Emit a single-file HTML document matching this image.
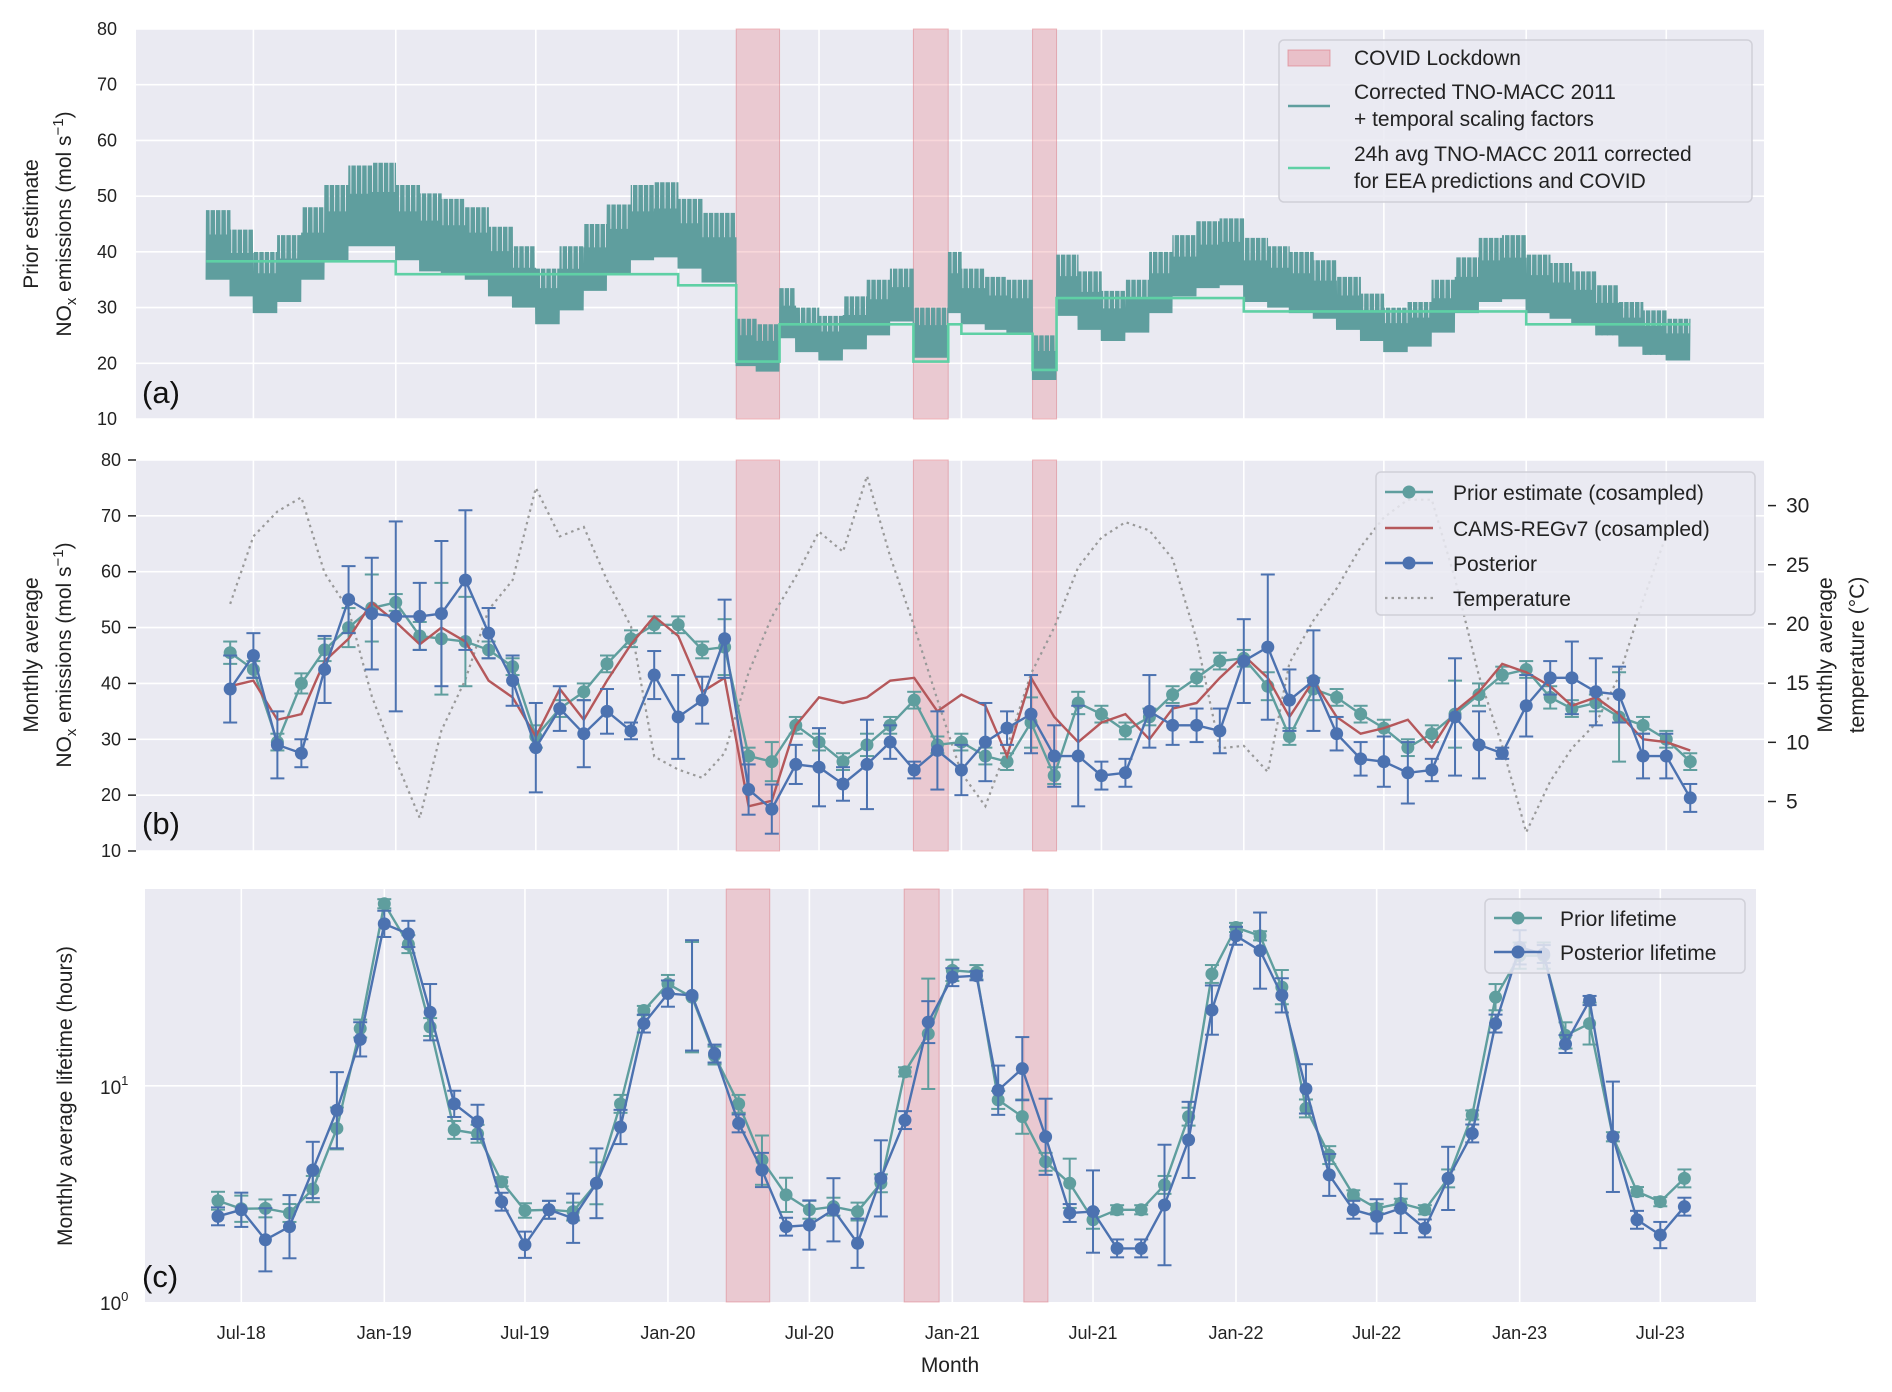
<!DOCTYPE html>
<html><head><meta charset="utf-8">
<style>
html,body{margin:0;padding:0;background:#fff;}
svg{display:block;font-family:"Liberation Sans",Arial,sans-serif;}
</style></head>
<body>
<svg id="fig" width="1892" height="1392" viewBox="0 0 1892 1392" xmlns="http://www.w3.org/2000/svg"></svg>
<script>
// ---------- DATA ----------
const lockdownStart = ['2020-03-16','2020-10-31','2021-04-03'];
const lockdownEnd   = ['2020-05-11','2020-12-15','2021-05-04'];

// Panel (a): envelope of hourly prior emissions per segment
const segStart = ['2018-05-01','2018-06-01','2018-07-01','2018-08-01','2018-09-01','2018-10-01','2018-11-01','2018-12-01',
'2019-01-01','2019-02-01','2019-03-01','2019-04-01','2019-05-01','2019-06-01','2019-07-01','2019-08-01','2019-09-01','2019-10-01','2019-11-01','2019-12-01',
'2020-01-01','2020-02-01','2020-03-16','2020-04-11','2020-05-11','2020-06-01','2020-07-01','2020-08-01','2020-09-01','2020-10-01','2020-10-31','2020-12-15',
'2021-01-01','2021-02-01','2021-03-01','2021-04-03','2021-05-04','2021-06-01','2021-07-01','2021-08-01','2021-09-01','2021-10-01','2021-11-01','2021-12-01',
'2022-01-01','2022-02-01','2022-03-01','2022-04-01','2022-05-01','2022-06-01','2022-07-01','2022-08-01','2022-09-01','2022-10-01','2022-11-01','2022-12-01',
'2023-01-01','2023-02-01','2023-03-01','2023-04-01','2023-05-01','2023-06-01','2023-07-01'];
const segEnd = '2023-08-01';
const segHigh = [47.5,44,40,43,48,52,55.5,56, 52,50.5,49.5,48,44.5,41,37,41,45,48.5,52,52.5,
 49.5,47,28,27,33.5,30,28.5,32,35,37,30,40, 37,35.5,35,25,39.5,36.5,33,35,40,43,45.5,46,
 42.5,41,40,38.5,35.5,32.5,30,31,35,39,42.5,43, 39.5,38,36.5,34,31,29.5,28];
const segLow = [35,32,29,31,35,38.5,41,41, 38.5,36.5,36,35,32,30,27,29.5,33,36,38.5,39,
 37,34.5,19.5,18.5,24.5,22,20.5,22.5,25,27.5,21,29, 27,26,25.5,17,28.5,26,24,25.5,29,32,33.5,34,
 31,30,29,28,26,24,22,23,25.5,29,31,31.5, 29,28,27,25,23,21.5,20.5];
const stepStart = ['2018-05-01','2019-01-01','2020-01-01','2020-03-16','2020-05-11','2020-10-31','2020-12-15','2021-01-01','2021-04-03','2021-05-04','2022-01-01','2023-01-01'];
const stepValue = [38.3,36,34,20.3,27,20.3,27,25.3,18.8,31.7,29.3,27];

// Panel (b): monthly values, Jun 2018 .. Aug 2023
const firstMonth = '2018-06-01';
const nMonths = 63;
const priorB = [45.5,42.5,29.5,40,46,50,53.5,54.5,48.5,48,47.5,46,43,30.5,35.5,38.5,43.5,48,50.5,50.5,46,46.5,
 27,26,32.5,29.5,26,29,32.5,37,29,29.5,27,26,33,23.5,36.5,34.5,31.5,34,38,41,44,44.5,39.5,30.5,39,37.5,
 34.5,32,28.5,31,34.5,38,41.5,42.5,37.5,35.5,36.5,34,32.5,30,26];
const priorBErr = [2,1.5,1.5,1.8,2,3.5,6,1.5,2.5,10,8,1.5,1.5,2,1.5,1.5,1.5,1.5,1.5,1.5,1.5,5,
 1.5,3.5,1.5,1.5,1.5,2,1.5,1.5,1.5,1.5,1.5,1.5,4.5,1.5,2,1.5,1.5,1.5,1.5,1.5,1.5,1.5,2.5,1.5,2,1.5,
 1.5,1.5,1.5,1.5,6,2,1.5,1.5,2,1.5,1.5,8,1.5,1.5,1.5];
const camsB = [39.5,40.5,33.5,34.5,44,48,54.5,51,47,50,47.5,40.5,37.5,30.5,39,33.5,40.5,47,52,48.5,38.5,41,
 18,19,32.5,37.5,36.5,37.5,40.5,41,35,38,36,27,41,34,29.5,33,34.5,30,35.5,36.5,41,45,41,34,40.5,34,
 31,32,33.5,28.5,35,38.5,43.5,42,39.5,36,37.5,34.5,30,29.5,28];
const postB = [39,45,29,27.5,42.5,55,52.5,52,52,52.5,58.5,49,40.5,28.5,35.5,31,35,31.5,41.5,34,37,48,
 21,17.5,25.5,25,22,25.5,29.5,24.5,28,24.5,29.5,32,34.5,27,27,23.5,24,35,32.5,32.5,31.5,44,46.5,37,40.5,31,
 26.5,26,24,24.5,34,29,27.5,36,41,41,38.5,38,27,27,19.5];
const postBErr = [6,4,6,2.5,6,6,10,17,6,13,12.5,4.5,4.5,8,4,6,4,1.5,4.3,7.5,4.2,7,
 4.5,4.4,3.5,7,3,8,3,1.5,7,4.5,7,3,7,5.5,9,2.5,2.5,6.5,3.5,3,4,7.5,13,5.5,9,3,
 3,4.5,5.5,2,10.5,6,1,5.5,3,6.5,6,5,4,4,2.5];
const tempB = [21.7,27.4,29.5,30.7,24.3,21.2,13.9,8.5,3.6,11,15.3,21.2,23.7,31.5,27.4,28.2,23.7,19.8,8.8,7.7,7,9.1,
 15.9,20.6,24,27.8,26.1,32.5,25.7,19.8,13.6,7.4,4.6,9.6,15.8,19.7,24.8,27.3,28.6,27.9,25.5,18.7,9.5,9.7,7.5,16.7,20.3,23,
 26.5,29,30.5,30.5,23.8,15.6,9.7,2.4,6.7,9.5,11.6,15.6,22,27.5];

// Panel (c): lifetimes (hours)
const priorLife = [2.94,2.7,2.71,2.58,3.33,6.35,18.4,69.5,45.2,18.7,6.25,6.0,3.6,2.65,2.67,2.62,3.54,8.25,22.3,29.6,25.7,13.8,
 8.25,4.53,3.13,2.67,2.76,2.62,3.54,11.6,17.4,34.2,33.5,8.6,7.2,4.45,3.54,2.4,2.67,2.67,3.48,7.2,32.9,54,49.4,28.6,7.86,4.78,
 3.13,2.71,2.86,2.67,3.73,7.33,25.7,40,40,17.1,19.4,5.81,3.24,2.91,3.73];
const priorLifeErr = [1.1,1.15,1.1,1.1,1.15,1.25,1.1,1.05,1.1,1.1,1.1,1.1,1.05,1.08,1.1,1.1,1.25,1.1,1.05,1.1,1.8,1.1,
 1.1,1.3,1.2,1.1,1.1,1.1,1.1,1.05,1.8,1.12,1.08,1.1,1.2,1.1,1.3,1.1,1.05,1.05,1.1,1.1,1.1,1.05,1.05,1.2,1.1,1.1,
 1.05,1.05,1.05,1.05,1.1,1.05,1.15,1.15,1.15,1.15,1.25,1.05,1.05,1.05,1.1];
const postLife = [2.49,2.67,1.94,2.23,4.08,7.71,16.4,56.1,50.4,21.9,8.25,6.81,2.91,1.84,2.67,2.44,3.54,6.45,19.4,26.7,26.2,14.1,
 6.7,4.08,2.23,2.27,2.67,1.87,3.73,6.94,19.7,31.8,32.3,9.54,12,5.81,2.58,2.62,1.77,1.77,2.81,5.62,22.4,49.4,42.2,26.2,9.68,3.87,
 2.67,2.49,2.71,2.19,3.73,6.02,19.4,43.7,40.7,15.6,24.8,5.81,2.4,2.04,2.76];
const postLifeErr = [1.1,1.2,1.4,1.4,1.35,1.5,1.2,1.15,1.15,1.35,1.15,1.2,1.1,1.15,1.1,1.3,1.45,1.2,1.1,1.15,1.8,1.1,
 1.1,1.2,1.1,1.3,1.4,1.3,1.5,1.1,1.25,1.1,1.05,1.3,1.4,1.5,1.1,1.55,1.1,1.1,1.9,1.5,1.3,1.1,1.5,1.2,1.3,1.25,
 1.1,1.2,1.3,1.1,1.4,1.1,1.1,1.2,1.1,1.1,1.05,1.8,1.1,1.15,1.1];

const tickLabels = ['Jul-18','Jan-19','Jul-19','Jan-20','Jul-20','Jan-21','Jul-21','Jan-22','Jul-22','Jan-23','Jul-23'];
const tickDates  = ['2018-07-01','2019-01-01','2019-07-01','2020-01-01','2020-07-01','2021-01-01','2021-07-01','2022-01-01','2022-07-01','2023-01-01','2023-07-01'];
const yTicksAB = [10,20,30,40,50,60,70,80];
const yTicksTemp = [5,10,15,20,25,30];

// ---------- HELPERS ----------
const NS='http://www.w3.org/2000/svg';
const svg=document.getElementById('fig');
function mk(tag,attrs,parent){const e=document.createElementNS(NS,tag);for(const k in attrs)e.setAttribute(k,attrs[k]);(parent||svg).appendChild(e);return e;}
const D0=Date.UTC(2018,6,1);
function dayOf(s){const p=s.split('-');return (Date.UTC(+p[0],+p[1]-1,+p[2])-D0)/86400000;}
function monthDate(i){const d=new Date(Date.UTC(2018,5+i,1));return d.toISOString().slice(0,10);}
const xAB=s=>253.4+dayOf(s)*0.77375;
const xC=s=>241.3+dayOf(s)*0.77711;
const A={l:136,r:1764,t:29,b:419}, B={l:136,r:1764,t:460,b:851}, C={l:145,r:1756,t:889,b:1302};
const yA=v=>A.b-(v-10)/70*(A.b-A.t);
const yB=v=>B.b-(v-10)/70*(B.b-B.t);
const yT=v=>801.5-(v-5)/25*(801.5-505.6);
const yC=v=>C.b-Math.log10(v)*216.2;
const TEAL='#5f9e9e', BLUE='#4c72b0', RED='#b5585b', GREEN='#5fd0a5';

function frame(P,name){
  const g=mk('g',{});
  
  
  mk('rect',{x:P.l,y:P.t,width:P.r-P.l,height:P.b-P.t,fill:'#eaeaf2'},g);
  const cp=mk('clipPath',{id:'clip-'+name},g);
  mk('rect',{x:P.l,y:P.t,width:P.r-P.l,height:P.b-P.t},cp);
  return g;
}
function vgrid(P,xf,g){
  tickDates.forEach(d=>{const x=xf(d);mk('line',{x1:x,x2:x,y1:P.t,y2:P.b,stroke:'#fff','stroke-width':1.6},g);});
}
function shading(P,xf,g){
  for(let i=0;i<lockdownStart.length;i++){
    const x1=xf(lockdownStart[i]),x2=xf(lockdownEnd[i]);
    const r=mk('rect',{x:x1,y:P.t,width:x2-x1,height:P.b-P.t,fill:'rgba(232,130,140,0.32)',stroke:'rgba(220,120,130,0.5)','stroke-width':1},g);
    
    
  }
}
function txt(x,y,s,attrs,parent){const t=mk('text',Object.assign({x:x,y:y,'font-size':18,fill:'#222'},attrs||{}),parent);t.textContent=s;return t;}

// ---------- PANEL A ----------
const gA=frame(A,'panel-a');
yTicksAB.forEach(v=>{const y=yA(v);mk('line',{x1:A.l,x2:A.r,y1:y,y2:y,stroke:'#fff','stroke-width':1.6},gA);
  const t=txt(117,y+6,String(v),{'text-anchor':'end'},gA);});
vgrid(A,xAB,gA);
shading(A,xAB,gA);
(function(){
  let d='';
  for(let s=0;s<segStart.length;s++){
    const d0=dayOf(segStart[s]), d1=dayOf(s+1<segStart.length?segStart[s+1]:segEnd);
    for(let day=Math.ceil(d0);day<d1;day++){
      const wd=(new Date(D0+day*86400000)).getUTCDay();
      const hi=(wd===0||wd===6)?segHigh[s]-0.35*(segHigh[s]-segLow[s]):segHigh[s];
      const x0=253.4+day*0.77375, xm=253.4+(day+0.5)*0.77375;
      d+=(d?'L':'M')+x0.toFixed(2)+','+yA(segLow[s]).toFixed(2)+'L'+xm.toFixed(2)+','+yA(hi).toFixed(2);
    }
  }
  const p=mk('path',{d:d,fill:'none',stroke:TEAL,'stroke-width':1.3,'clip-path':'url(#clip-panel-a)'},gA);
  
  
  let s='';
  for(let i=0;i<stepStart.length;i++){
    const x0=xAB(stepStart[i]), x1=xAB(i+1<stepStart.length?stepStart[i+1]:segEnd), y=yA(stepValue[i]);
    s+=(i?'L':'M')+x0.toFixed(2)+','+y.toFixed(2)+'L'+x1.toFixed(2)+','+y.toFixed(2);
  }
  const q=mk('path',{d:s,fill:'none',stroke:GREEN,'stroke-width':2.6},gA);
  
  
})();
txt(142,403,'(a)',{'font-size':31,fill:'#111'},gA);
// legend a
(function(){
  const g=mk('g',{});
  
  
  mk('rect',{x:1279,y:40,width:473,height:162,rx:5,fill:'rgba(234,234,242,0.85)',stroke:'#d0d0d8','stroke-width':1.5},g);
  mk('rect',{x:1288,y:50,width:42,height:16,fill:'rgba(232,130,140,0.4)',stroke:'rgba(220,120,130,0.6)'},g);
  txt(1354,65,'COVID Lockdown',{'font-size':21},g);
  mk('line',{x1:1288,x2:1330,y1:106,y2:106,stroke:TEAL,'stroke-width':2.6},g);
  txt(1354,99,'Corrected TNO-MACC 2011',{'font-size':21},g);
  txt(1354,126,'+ temporal scaling factors',{'font-size':21},g);
  mk('line',{x1:1288,x2:1330,y1:168,y2:168,stroke:GREEN,'stroke-width':2.6},g);
  txt(1354,161,'24h avg TNO-MACC 2011 corrected',{'font-size':21},g);
  txt(1354,188,'for EEA predictions and COVID',{'font-size':21},g);
})();
// y label a
(function(){
  const t=mk('text',{transform:'translate(38,224) rotate(-90)','text-anchor':'middle','font-size':21,fill:'#222'});
  t.textContent='Prior estimate';
  
  const t2=mk('text',{transform:'translate(71,224) rotate(-90)','text-anchor':'middle','font-size':21,fill:'#222'});
  t2.innerHTML='NO<tspan font-size="15" dy="5">x</tspan><tspan dy="-5"> emissions (mol s</tspan><tspan font-size="15" dy="-8">−1</tspan><tspan dy="8">)</tspan>';
  
})();

// ---------- PANEL B ----------
const gB=frame(B,'panel-b');
yTicksAB.forEach(v=>{const y=yB(v);mk('line',{x1:B.l,x2:B.r,y1:y,y2:y,stroke:'#fff','stroke-width':1.6},gB);
  mk('line',{x1:B.l-8,x2:B.l,y1:y,y2:y,stroke:'#222','stroke-width':1.5},gB);
  const t=txt(121,y+6,String(v),{'text-anchor':'end'},gB);});
yTicksTemp.forEach(v=>{const y=yT(v);mk('line',{x1:B.r+4,x2:B.r+12,y1:y,y2:y,stroke:'#222','stroke-width':1.5},gB);
  const t=txt(B.r+22,y+7,String(v),{'font-size':21},gB);});
vgrid(B,xAB,gB);
shading(B,xAB,gB);
function linePath(vals,xf,yf){let d='';vals.forEach((v,i)=>{d+=(i?'L':'M')+xf(monthDate(i)).toFixed(2)+','+yf(v).toFixed(2);});return d;}
(function(){
  const tp=mk('path',{d:linePath(tempB,xAB,yT),fill:'none',stroke:'#999','stroke-width':2.2,'stroke-dasharray':'2.5,4','clip-path':'url(#clip-panel-b)'},gB);
  
  function errSeries(vals,errs,color,name){
    const g=mk('g',{},gB);
    
    
    vals.forEach((v,i)=>{const x=xAB(monthDate(i));const y1=yB(v+errs[i]),y2=yB(v-errs[i]);
      mk('line',{x1:x,x2:x,y1:y1,y2:y2,stroke:color,'stroke-width':2},g);
      mk('line',{x1:x-7,x2:x+7,y1:y1,y2:y1,stroke:color,'stroke-width':2},g);
      mk('line',{x1:x-7,x2:x+7,y1:y2,y2:y2,stroke:color,'stroke-width':2},g);});
    mk('path',{d:linePath(vals,xAB,yB),fill:'none',stroke:color,'stroke-width':2.4},g);
    vals.forEach((v,i)=>{const c=mk('circle',{cx:xAB(monthDate(i)),cy:yB(v),r:6.5,fill:color},g);
      });
  }
  errSeries(priorB,priorBErr,TEAL,'prior-estimate-series');
  const cp=mk('path',{d:linePath(camsB,xAB,yB),fill:'none',stroke:RED,'stroke-width':2.4},gB);
  
  errSeries(postB,postBErr,BLUE,'posterior-series');
})();
txt(142,834,'(b)',{'font-size':31,fill:'#111'},gB);
(function(){
  const g=mk('g',{});
  
  
  mk('rect',{x:1376,y:472,width:379,height:143,rx:5,fill:'rgba(234,234,242,0.85)',stroke:'#d0d0d8','stroke-width':1.5},g);
  const items=[['Prior estimate (cosampled)',TEAL,'m',492],['CAMS-REGv7 (cosampled)',RED,'l',528],['Posterior',BLUE,'m',563],['Temperature','#999','d',598]];
  items.forEach(it=>{
    const y=it[3];
    mk('line',{x1:1385,x2:1433,y1:y,y2:y,stroke:it[1],'stroke-width':it[2]==='d'?2.2:2.4,'stroke-dasharray':it[2]==='d'?'2.5,4':'none'},g);
    if(it[2]==='m')mk('circle',{cx:1409,cy:y,r:6.5,fill:it[1]},g);
    txt(1453,y+8,it[0],{'font-size':21},g);
  });
})();
(function(){
  const t=mk('text',{transform:'translate(38,655) rotate(-90)','text-anchor':'middle','font-size':21,fill:'#222'});
  t.textContent='Monthly average';
  
  const t2=mk('text',{transform:'translate(71,655) rotate(-90)','text-anchor':'middle','font-size':21,fill:'#222'});
  t2.innerHTML='NO<tspan font-size="15" dy="5">x</tspan><tspan dy="-5"> emissions (mol s</tspan><tspan font-size="15" dy="-8">−1</tspan><tspan dy="8">)</tspan>';
  
  const r1=mk('text',{transform:'translate(1832,655) rotate(-90)','text-anchor':'middle','font-size':21,fill:'#222'});
  r1.textContent='Monthly average';
  
  const r2=mk('text',{transform:'translate(1864,655) rotate(-90)','text-anchor':'middle','font-size':21,fill:'#222'});
  r2.textContent='temperature (°C)';
  
})();

// ---------- PANEL C ----------
const gC=frame(C,'panel-c');
mk('line',{x1:C.l,x2:C.r,y1:yC(10),y2:yC(10),stroke:'#fff','stroke-width':1.6},gC);
vgrid(C,xC,gC);
shading(C,xC,gC);
(function(){
  [[1,'0'],[10,'1']].forEach(p=>{const y=yC(p[0]);
    const t=mk('text',{x:100,y:y+8,'font-size':19,fill:'#222'},gC);
    t.innerHTML='10<tspan font-size="13" dy="-9">'+p[1]+'</tspan>';
    });
  function lifeSeries(vals,errs,color,name){
    const g=mk('g',{},gC);
    
    
    vals.forEach((v,i)=>{const x=xC(monthDate(i));const y1=yC(v*errs[i]),y2=yC(v/errs[i]);
      mk('line',{x1:x,x2:x,y1:y1,y2:y2,stroke:color,'stroke-width':2},g);
      mk('line',{x1:x-7,x2:x+7,y1:y1,y2:y1,stroke:color,'stroke-width':2},g);
      mk('line',{x1:x-7,x2:x+7,y1:y2,y2:y2,stroke:color,'stroke-width':2},g);});
    mk('path',{d:linePath(vals,xC,yC),fill:'none',stroke:color,'stroke-width':2.4},g);
    vals.forEach((v,i)=>{const c=mk('circle',{cx:xC(monthDate(i)),cy:yC(v),r:6.5,fill:color},g);
      });
  }
  lifeSeries(priorLife,priorLifeErr,TEAL,'prior-lifetime-series');
  lifeSeries(postLife,postLifeErr,BLUE,'posterior-lifetime-series');
  tickLabels.forEach((s,i)=>{const t=txt(xC(tickDates[i]),1339,s,{'text-anchor':'middle'},gC);
    });
  const xl=txt(950,1372,'Month',{'text-anchor':'middle','font-size':21},gC);
  
  const yl=mk('text',{transform:'translate(72,1096) rotate(-90)','text-anchor':'middle','font-size':21,fill:'#222'},gC);
  yl.textContent='Monthly average lifetime (hours)';
  
})();
txt(142,1287,'(c)',{'font-size':31,fill:'#111'},gC);
(function(){
  const g=mk('g',{});
  
  
  mk('rect',{x:1485,y:899,width:260,height:74,rx:5,fill:'rgba(234,234,242,0.85)',stroke:'#d0d0d8','stroke-width':1.5},g);
  [['Prior lifetime',TEAL,918],['Posterior lifetime',BLUE,952]].forEach(it=>{
    mk('line',{x1:1494,x2:1542,y1:it[2],y2:it[2],stroke:it[1],'stroke-width':2.4},g);
    mk('circle',{cx:1518,cy:it[2],r:6.5,fill:it[1]},g);
    txt(1560,it[2]+8,it[0],{'font-size':21},g);
  });
})();
</script>
</body></html>
